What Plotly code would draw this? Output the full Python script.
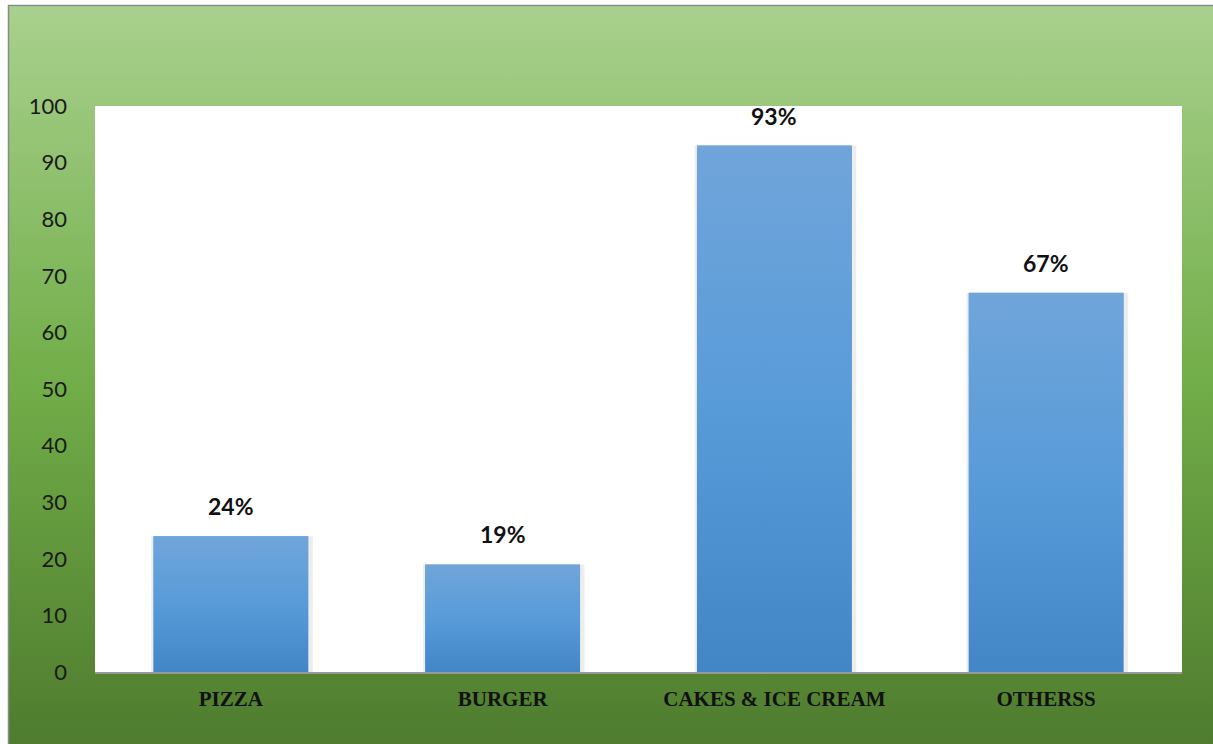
import base64
import plotly.graph_objects as go

# Food preference survey
categories = ["PIZZA", "BURGER", "CAKES & ICE CREAM", "OTHERSS"]
percentages = [24, 19, 93, 67]
y_ticks = [0, 10, 20, 30, 40, 50, 60, 70, 80, 90, 100]

W, H = 1213, 744
M_L, M_R, M_T, M_B = 95, 31, 106, 72
PW, PH = W - M_L - M_R, H - M_T - M_B
BAR_W = 0.57


def gradient_svg(stops):
    stop_xml = "".join(
        f"<stop offset='{o}' stop-color='{c}'/>" for o, c in stops
    )
    svg = (
        "<svg xmlns='http://www.w3.org/2000/svg' width='100' height='100' "
        "preserveAspectRatio='none'><defs><linearGradient id='g' x1='0' y1='0' "
        f"x2='0' y2='1'>{stop_xml}</linearGradient></defs>"
        "<rect width='100' height='100' fill='url(#g)'/></svg>"
    )
    return "data:image/svg+xml;base64," + base64.b64encode(svg.encode()).decode()


bg_src = gradient_svg([(0, "#a9d18e"), (0.5, "#71ad48"), (1, "#4d792d")])
bar_src = gradient_svg([(0, "#70a5da"), (0.5, "#589bd9"), (1, "#4386c6")])


def px_to_paper_x(px):
    return (px - M_L) / PW


def px_to_paper_y(py):
    return (H - M_B - py) / PH


x_pos = list(range(len(categories)))

fig = go.Figure()

# soft shadow behind the bars
fig.add_trace(go.Bar(
    x=[x + 0.004 for x in x_pos], y=percentages, width=BAR_W + 0.025,
    marker=dict(color="rgba(0,0,0,0.07)", line=dict(width=0)),
    hoverinfo="skip", showlegend=False,
))
fig.add_trace(go.Bar(
    x=x_pos, y=percentages, width=BAR_W,
    marker=dict(color="#5b9bd5", line=dict(width=0)),
    showlegend=False,
))
fig.update_layout(barmode="overlay")

images = [dict(
    source=bg_src, xref="paper", yref="paper",
    x=px_to_paper_x(8), y=px_to_paper_y(5),
    sizex=(W + 20 - 8) / PW, sizey=(H + 20 - 5) / PH,
    xanchor="left", yanchor="top", sizing="stretch", layer="below",
)]
# vertical gradient fill for each bar
for x, v in zip(x_pos, percentages):
    images.append(dict(
        source=bar_src, xref="x", yref="y",
        x=x - BAR_W / 2, y=v, sizex=BAR_W, sizey=v,
        xanchor="left", yanchor="top", sizing="stretch", layer="above",
    ))

annotations = [
    dict(x=x, y=v, xref="x", yref="y", text=f"<b>{v}%</b>",
         showarrow=False, yanchor="bottom", yshift=14,
         font=dict(family="Lato, Open Sans, sans-serif", size=23, color="#111111"))
    for x, v in zip(x_pos, percentages)
]

shapes = [
    # white plotting area over the gradient backdrop
    dict(type="rect", xref="paper", yref="paper", x0=0, y0=0, x1=1, y1=1,
         line=dict(width=0), fillcolor="#ffffff", layer="below"),
    # outer chart frame
    dict(type="rect", xref="paper", yref="paper",
         x0=px_to_paper_x(8.5), y0=px_to_paper_y(H + 20),
         x1=px_to_paper_x(W + 20), y1=px_to_paper_y(5.5),
         line=dict(color="#8a8a8a", width=1.5), fillcolor="rgba(0,0,0,0)",
         layer="above"),
]

fig.update_layout(
    width=W, height=H,
    margin=dict(l=M_L, r=M_R, t=M_T, b=M_B, pad=0),
    paper_bgcolor="#ffffff", plot_bgcolor="#ffffff",
    images=images, annotations=annotations, shapes=shapes,
    xaxis=dict(
        range=[-0.5, len(categories) - 0.5],
        tickmode="array", tickvals=x_pos, ticktext=categories,
        showgrid=False, zeroline=False,
        showline=True, linecolor="#9a9a9a", linewidth=1.5,
        ticks="", ticklabelstandoff=7,
        tickfont=dict(family="Liberation Serif, Times New Roman, serif",
                      size=21, color="#111111", weight="bold"),
    ),
    yaxis=dict(
        range=[0, 100], tickmode="array", tickvals=y_ticks,
        showgrid=False, zeroline=False, showline=False,
        ticks="", ticklabelstandoff=27,
        tickfont=dict(family="Lato, Open Sans, sans-serif", size=22, color="#1a1a1a"),
    ),
)

fig.write_html("out.html")
